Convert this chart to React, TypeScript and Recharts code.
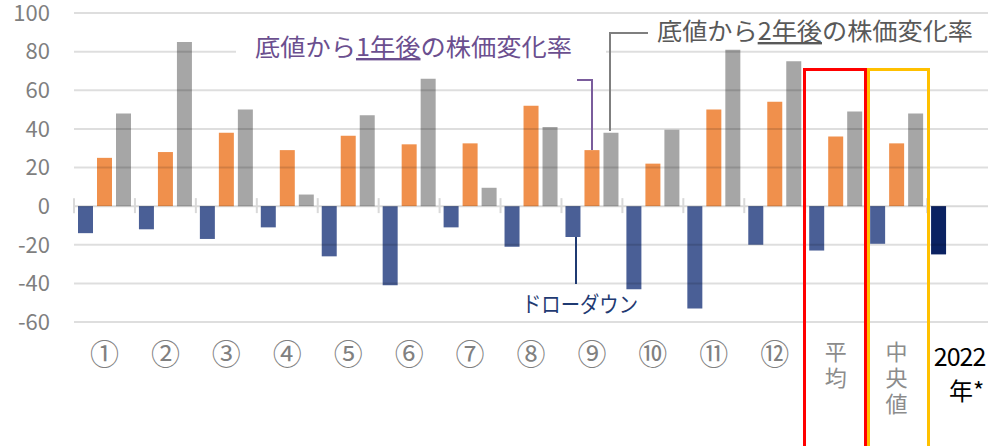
import React from 'react';
import {
  BarChart,
  Bar,
  XAxis,
  YAxis,
  ReferenceLine,
  Cell,
} from 'recharts';

const categories = ['①', '②', '③', '④', '⑤', '⑥', '⑦', '⑧', '⑨', '⑩', '⑪', '⑫', '平均', '中央値', '2022年*'];
const drawdown = [-14, -12, -17, -11, -26, -41, -11, -21, -16, -43, -53, -20, -23, -19.5, -25];
const oneYear = [25, 28, 38, 29, 36.5, 32, 32.5, 52, 29, 22, 50, 54, 36, 32.5, null];
const twoYear = [48, 85, 50, 6, 47, 66, 9.5, 41, 38, 39.5, 81, 75, 49, 48, null];
const yTicks = [-60, -40, -20, 0, 20, 40, 60, 80, 100];

const data = categories.map((name, i) => ({
  name,
  drawdown: drawdown[i],
  oneYear: oneYear[i],
  twoYear: twoYear[i],
}));

const FONT = '"Noto Sans CJK JP", "Noto Sans", sans-serif';

const XTick = (props: any) => {
  const { x, y, payload } = props;
  const v: string = payload.value;
  if (v === '平均' || v === '中央値') {
    // stacked vertically like the original
    return (
      <text
        x={x}
        y={y + 19}
        fontSize={22}
        fill="#8c8c8c"
        fontFamily={FONT}
        letterSpacing={4}
        style={{ writingMode: 'vertical-rl' }}
      >
        {v}
      </text>
    );
  }
  if (v.startsWith('2022')) {
    return (
      <g>
        <text x={x + 2} y={y + 44} textAnchor="middle" fontSize={25} fill="#000" fontFamily={FONT} letterSpacing={-1}>
          2022
        </text>
        <text x={x + 9} y={y + 78} textAnchor="middle" fontSize={24} fill="#000" fontFamily={FONT}>
          {v.slice(4)}
        </text>
      </g>
    );
  }
  return (
    <text x={x} y={y + 43} textAnchor="middle" fontSize={29} fill="#808080" fontFamily={FONT}>
      {v}
    </text>
  );
};

// zero line with small tick marks at category boundaries
const ZeroLine = (props: any) => {
  const { x1, y1, x2 } = props;
  const step = (x2 - x1) / categories.length;
  return (
    <g>
      <line x1={x1} y1={y1} x2={x2} y2={y1} stroke="#000" strokeOpacity={0.15} strokeWidth={2} />
      {categories.map((_, i) => (
        <line
          key={i}
          x1={x1 + i * step}
          x2={x1 + i * step}
          y1={y1 - 8}
          y2={y1 + 7}
          stroke="#d9d9d9"
          strokeWidth={2}
        />
      ))}
    </g>
  );
};

export default function App() {
  return (
    <div style={{ position: 'absolute', left: 0, top: 0, width: 988, height: 446, background: '#fff' }}>
      <BarChart
        width={988}
        height={446}
        data={data}
        margin={{ top: 13, right: 0, bottom: 0, left: 0 }}
        barCategoryGap={4}
        barGap={4}
      >
        <XAxis
          dataKey="name"
          interval={0}
          axisLine={false}
          tickLine={false}
          tickSize={0}
          tickMargin={0}
          height={124}
          tick={<XTick />}
        />
        <YAxis
          domain={[-60, 100]}
          ticks={yTicks}
          width={74}
          axisLine={false}
          tickLine={false}
          tickSize={0}
          tickMargin={24}
          tick={{ fontSize: 22, fill: '#7f7f7f', fontFamily: FONT }}
        />
        <Bar dataKey="drawdown" fill="#4a5f96" isAnimationActive={false}>
          {data.map((d, i) => (
            <Cell key={i} fill={d.name.startsWith('2022') ? '#0b2262' : '#4a5f96'} />
          ))}
        </Bar>
        <Bar dataKey="oneYear" fill="#f0904c" isAnimationActive={false} />
        <Bar dataKey="twoYear" fill="#a6a6a6" isAnimationActive={false} />
        {yTicks
          .filter((t) => t !== 0)
          .map((t) => (
            <ReferenceLine key={t} y={t} stroke="#000" strokeOpacity={0.13} strokeWidth={2} />
          ))}
        <ReferenceLine y={0} shape={<ZeroLine />} />
      </BarChart>
      <svg
        width={988}
        height={446}
        style={{ position: 'absolute', left: 0, top: 0, pointerEvents: 'none' }}
        fontFamily={FONT}
      >
        <rect x={236} y={28} width={370} height={40} fill="#fff" />
        <text x={255} y={56} fontSize={24} fill="#6b4f8f" textLength={317} lengthAdjust="spacingAndGlyphs">
          底値から<tspan style={{ textDecoration: 'underline' }}>1年後</tspan>の株価変化率
        </text>
        <text x={657} y={40} fontSize={24} fill="#595959" textLength={316} lengthAdjust="spacingAndGlyphs">
          底値から<tspan style={{ textDecoration: 'underline' }}>2年後</tspan>の株価変化率
        </text>
        <polyline points="648,33 610,33 610,131" fill="none" stroke="#7f7f7f" strokeWidth={2} />
        <polyline points="577,80 592,80 592,150" fill="none" stroke="#7a5c9c" strokeWidth={2} />
        <line x1={576} y1={237} x2={576} y2={284} stroke="#1f3a72" strokeWidth={2} />
        <text x={522} y={312} fontSize={22} fill="#1f3a72" textLength={116} lengthAdjust="spacingAndGlyphs">
          ドローダウン
        </text>
        <rect x={804.5} y={69.5} width={61} height={400} fill="none" stroke="#ff0000" strokeWidth={3} />
        <rect x={868.5} y={69.5} width={60} height={400} fill="none" stroke="#ffc000" strokeWidth={3} />
      </svg>
    </div>
  );
}
